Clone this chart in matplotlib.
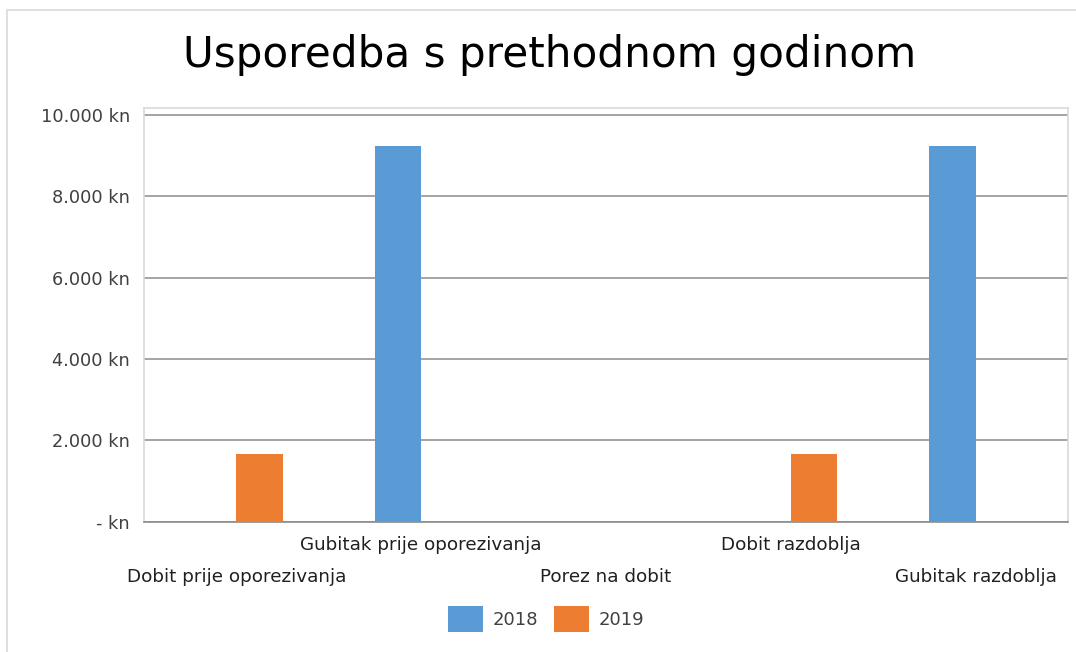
import matplotlib.pyplot as plt
import numpy as np
from matplotlib.patches import Rectangle
from matplotlib.transforms import blended_transform_factory

categories = ['Dobit prije oporezivanja', 'Gubitak prije oporezivanja', 'Porez na dobit',
              'Dobit razdoblja', 'Gubitak razdoblja']
v2018 = [0, 9240, 0, 0, 9240]
v2019 = [1665, 0, 0, 1665, 0]
yticks = [0, 2000, 4000, 6000, 8000, 10000]
ylabels = ['- kn', '2.000 kn', '4.000 kn', '6.000 kn', '8.000 kn', '10.000 kn']

blue = '#5B9BD5'
orange = '#ED7D31'
W, H = 1076, 652

fig = plt.figure(figsize=(W / 100, H / 100), dpi=100)
# outer chart border
fig.patches.append(Rectangle((7 / W, -0.01), 1.02, 1 - 10 / H + 0.01, transform=fig.transFigure,
                             fill=False, edgecolor='#d9d9d9', linewidth=1.2))

ax = fig.add_axes([144 / W, 1 - 521.7 / H, (1068 - 144) / W, (521.7 - 108) / H])
x = np.arange(len(categories))
bw = 0.25
ax.bar(x - bw / 2, v2018, bw, color=blue, label='2018', zorder=3)
ax.bar(x + bw / 2, v2019, bw, color=orange, label='2019', zorder=3)

ax.set_xlim(-0.5, len(categories) - 0.5)
ax.set_ylim(0, 10000 * (521.7 - 108) / (521.7 - 115))
ax.set_yticks(yticks)
ax.set_yticklabels(ylabels, fontsize=12.8, color='#404040')
ax.tick_params(axis='y', length=0, pad=10)
ax.set_xticks([])
ax.grid(axis='y', color='#8c8c8c', linewidth=1.1, zorder=0)
for s in ax.spines.values():
    s.set_color('#d9d9d9')
    s.set_linewidth(1.2)
ax.spines['bottom'].set_color('#8c8c8c')

# staggered category labels
tr = blended_transform_factory(ax.transData, fig.transFigure)
for i, name in enumerate(categories):
    yy = 1 - 545 / H if i % 2 == 1 else 1 - 577 / H
    ax.text(i, yy, name, transform=tr, ha='center', va='center', fontsize=13.2, color='#202020')

fig.text(550 / W, 1 - 55 / H, 'Usporedba s prethodnom godinom', ha='center', va='center',
         fontsize=30.3, color='#000000')

leg = fig.legend(loc='center', bbox_to_anchor=(546 / W, 1 - 619 / H), ncol=2, frameon=False,
                 fontsize=13, handlelength=1.95, handleheight=1.85, handletextpad=0.5,
                 columnspacing=0.9)
for t in leg.get_texts():
    t.set_color('#404040')

plt.savefig('out.png', dpi=100)
